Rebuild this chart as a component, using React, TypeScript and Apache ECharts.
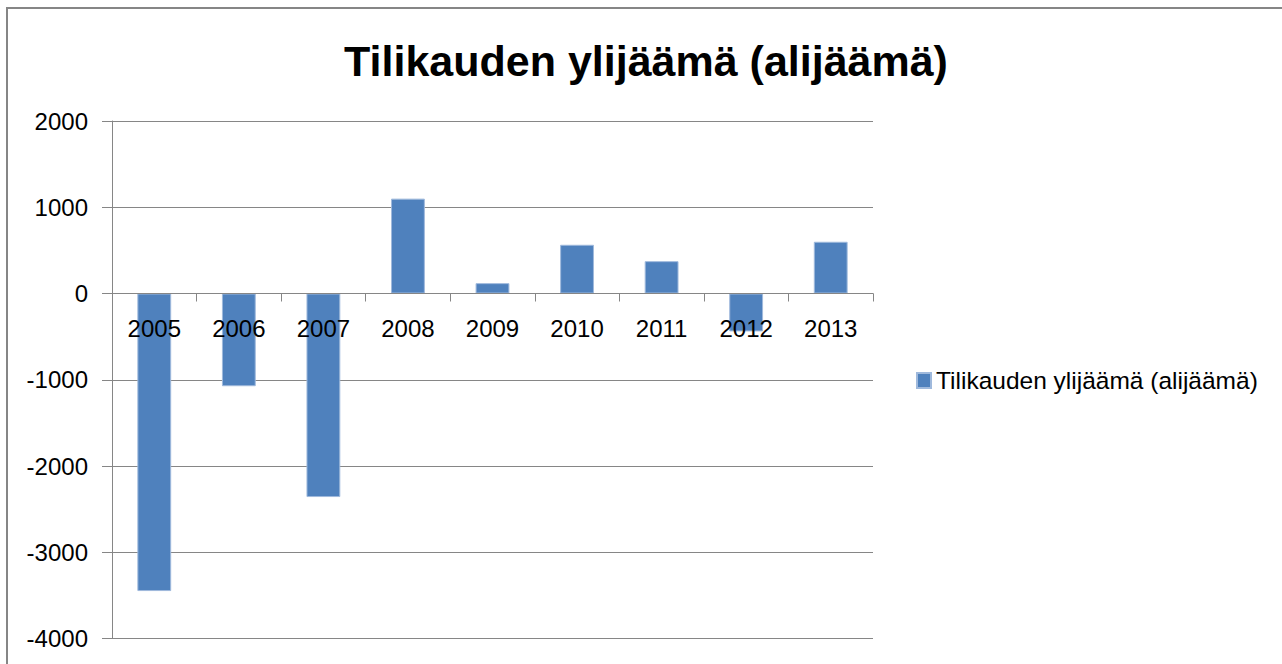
import React, { useEffect, useRef } from "react";
import * as echarts from "echarts";

const categories = ["2005", "2006", "2007", "2008", "2009", "2010", "2011", "2012", "2013"];
const seriesName = "Tilikauden ylijäämä (alijäämä)";
const values = [-3450, -1075, -2360, 1100, 120, 565, 375, -440, 600];
const titleText = "Tilikauden ylijäämä (alijäämä)";

const FONT = "'Liberation Sans', Arial, sans-serif";
const GRAY = "#868686";

export default function App() {
  const ref = useRef<HTMLDivElement>(null);
  useEffect(() => {
    document.body.style.margin = "0";
    const chart = echarts.init(ref.current!, null, { renderer: "svg" });
    chart.setOption({
      animation: false,
      backgroundColor: "#ffffff",
      textStyle: { fontFamily: FONT },
      title: {
        text: titleText,
        left: 641,
        top: 34,
        textAlign: "center",
        textStyle: { fontFamily: FONT, fontSize: 43, fontWeight: "bold", color: "#000" },
      },
      legend: {
        left: 916,
        top: 368,
        padding: 0,
        itemWidth: 14,
        itemHeight: 15,
        icon: "rect",
        textStyle: { fontFamily: FONT, fontSize: 24.5, color: "#000" },
        data: [seriesName],
      },
      graphic: [
        {
          type: "rect",
          shape: { x: 7, y: 8, width: 1300, height: 700 },
          style: { fill: "none", stroke: GRAY, lineWidth: 2 },
          silent: true,
        },
      ],
      grid: { left: 112, right: 409, top: 121, bottom: 25.5, outerBoundsMode: "none" },
      xAxis: {
        type: "category",
        data: categories,
        z: 5,
        position: "bottom",
        offset: -345,
        axisLine: { onZero: false, lineStyle: { color: GRAY, width: 1 } },
        axisTick: { show: true, length: 8, lineStyle: { color: GRAY } },
        axisLabel: { margin: 23, fontFamily: FONT, fontSize: 24, color: "#000" },
        splitLine: { show: false },
      },
      yAxis: {
        type: "value",
        min: -4000,
        max: 2000,
        interval: 1000,
        axisLine: { show: true, lineStyle: { color: GRAY, width: 1 } },
        axisTick: { show: true, length: 10, lineStyle: { color: GRAY } },
        axisLabel: {
          margin: 24,
          fontFamily: FONT,
          fontSize: 24,
          color: "#000",
          formatter: (v: number) => String(v),
        },
        splitLine: { show: true, lineStyle: { color: GRAY, width: 1 } },
      },
      series: [
        {
          name: seriesName,
          type: "bar",
          data: values,
          barWidth: "40%",
          itemStyle: { color: "#4F81BD", borderColor: "#9fb9dc", borderWidth: 1 },
        },
      ],
    });
    return () => chart.dispose();
  }, []);
  return <div ref={ref} style={{ width: 1282, height: 664 }} />;
}
